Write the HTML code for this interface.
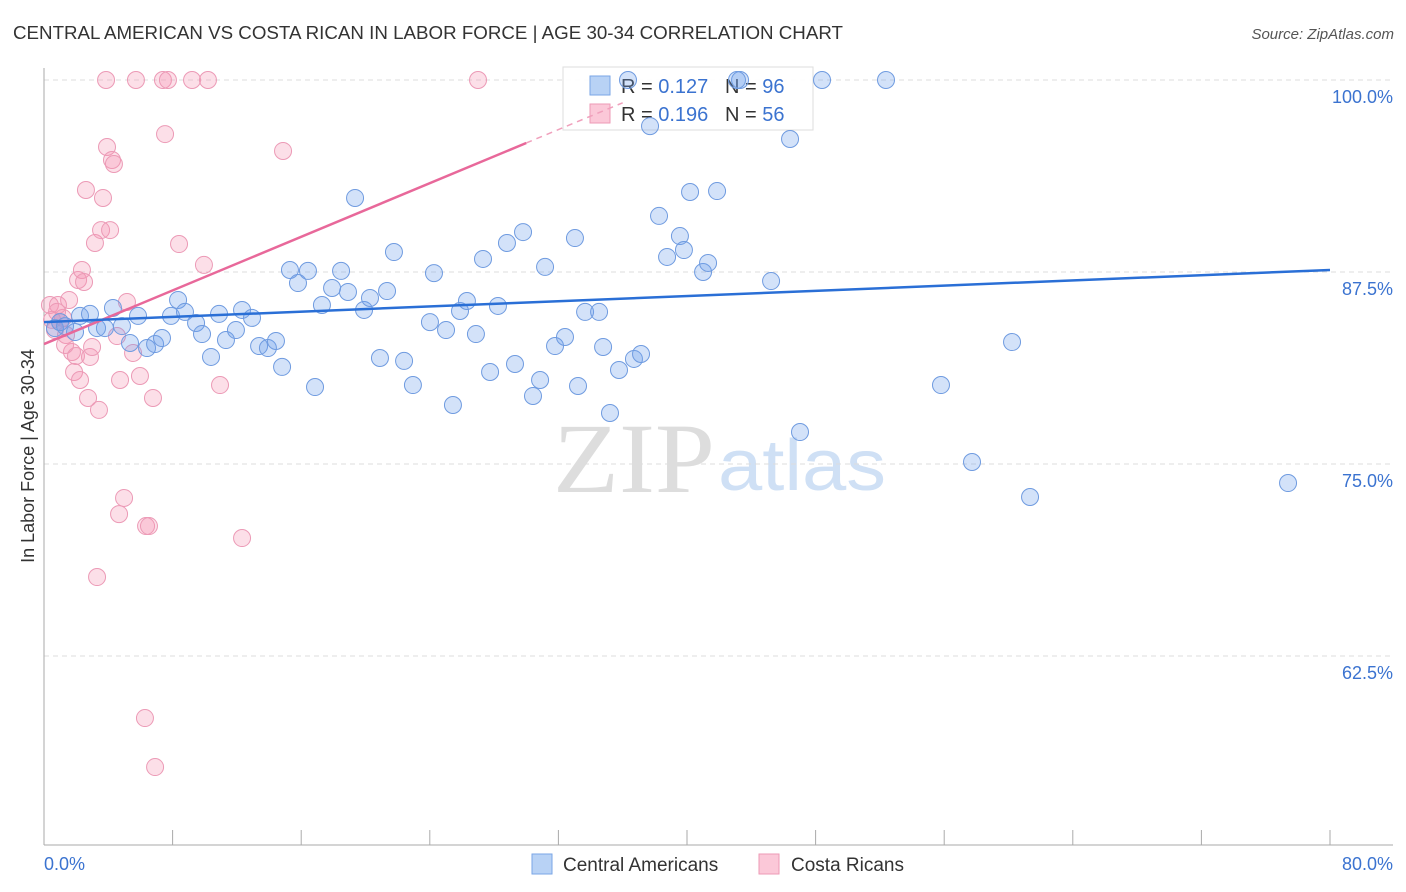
<!DOCTYPE html>
<html><head><meta charset="utf-8"><style>
body{margin:0;background:#fff;font-family:"Liberation Sans",sans-serif;}
svg{display:block}
</style></head><body>
<svg id="chart" width="1406" height="892">
<text x="13" y="39" font-size="18" fill="#333" textLength="830" lengthAdjust="spacingAndGlyphs">CENTRAL AMERICAN VS COSTA RICAN IN LABOR FORCE | AGE 30-34 CORRELATION CHART</text>
<text x="1394" y="39" font-size="15" fill="#555" font-style="italic" text-anchor="end">Source: ZipAtlas.com</text>
<text transform="translate(34,456) rotate(-90)" font-size="18" fill="#333" text-anchor="middle">In Labor Force | Age 30-34</text>
<text x="553" y="492" font-size="100" fill="#ddd" font-family="Liberation Serif,serif" textLength="162" lengthAdjust="spacingAndGlyphs">ZIP</text>
<text x="718" y="490" font-size="72" fill="#cfe0f5" textLength="168" lengthAdjust="spacingAndGlyphs">atlas</text>
<g id="grid"></g>
<g>
<rect x="563" y="67" width="250" height="63" fill="#fff" fill-opacity="0.9" stroke="#ddd"/>
<rect x="590" y="76" width="20" height="19" fill="#b8d2f5" stroke="#7aa6e6"/>
<rect x="590" y="104" width="20" height="19" fill="#fbc8d8" stroke="#ee9ab6"/>
<text x="621" y="93" font-size="20" fill="#333">R = <tspan fill="#3b73d0">0.127</tspan>&#160;&#160;&#160;N = <tspan fill="#3b73d0">96</tspan></text>
<text x="621" y="121" font-size="20" fill="#333">R = <tspan fill="#3b73d0">0.196</tspan>&#160;&#160;&#160;N = <tspan fill="#3b73d0">56</tspan></text>
</g>
<g id="marks"></g>
<g>
<rect x="532" y="854" width="20" height="20" fill="#b8d2f5" stroke="#7aa6e6"/>
<text x="563" y="871" font-size="19" fill="#333">Central Americans</text>
<rect x="759" y="854" width="20" height="20" fill="#fbc8d8" stroke="#ee9ab6"/>
<text x="791" y="871" font-size="19" fill="#333">Costa Ricans</text>
</g>
</svg>
<script>
const yTicks=[100,87.5,75,62.5];
const yTickLabels=["100.0%","87.5%","75.0%","62.5%"];
const xTickLabels=["0.0%","80.0%"];
const blueX=[0.68,1.0,1.31,1.93,2.24,2.86,3.30,3.79,4.29,4.85,5.35,5.85,6.41,6.91,7.34,7.90,8.34,8.77,9.46,9.83,10.39,10.89,11.32,11.94,12.32,12.94,13.38,13.93,14.43,14.81,15.30,15.80,16.42,16.86,17.29,17.92,18.48,18.91,19.35,19.91,20.28,20.90,21.34,21.77,22.40,22.95,24.01,24.26,25.01,25.44,25.88,26.31,26.87,27.31,27.75,28.24,28.80,29.30,29.80,30.42,30.86,31.17,31.79,32.41,33.03,33.22,33.66,34.53,34.78,35.21,35.77,36.33,36.70,37.14,37.70,38.26,38.76,39.56,39.81,40.19,41.00,41.31,41.87,43.30,43.11,45.23,46.41,47.03,48.40,52.38,55.80,57.73,60.22,61.34,77.39];
const blueY=[83.85,84.24,83.98,83.59,84.64,84.77,83.85,83.85,85.16,83.98,82.88,84.64,82.55,82.81,83.20,84.64,85.68,84.90,84.18,83.46,81.97,84.77,83.07,83.72,85.03,84.51,82.68,82.55,83.01,81.32,87.63,86.78,87.57,80.01,85.35,86.46,87.57,86.20,92.32,85.03,85.81,81.90,86.26,88.80,81.71,80.14,84.24,87.43,83.72,78.84,84.96,85.61,83.46,88.35,80.99,85.29,89.39,81.51,90.10,79.43,80.47,87.83,82.68,83.27,89.71,80.08,84.90,84.90,82.62,78.32,81.12,100,81.84,82.16,97.0,91.15,88.48,89.84,88.93,92.71,87.50,88.09,92.77,100,100,86.91,96.16,77.08,100,100,80.14,75.13,82.94,72.85,73.76];
const pinkX=[0.37,0.50,0.68,0.87,1.0,1.18,1.37,1.56,1.74,1.87,1.99,2.12,2.24,2.36,2.49,2.61,2.74,3.17,3.30,3.42,3.55,3.67,3.86,3.92,4.11,4.23,4.35,4.54,4.67,4.73,4.98,5.16,5.54,5.72,5.97,6.28,6.35,6.53,6.78,6.91,7.40,7.53,7.71,8.40,9.21,9.95,10.20,10.95,12.32,14.87,27.0,2.86,2.99,1.31,0.81];
const pinkY=[85.35,84.38,83.72,85.35,84.24,84.51,83.40,85.68,82.29,80.99,82.03,86.98,80.47,87.63,86.85,92.84,79.30,89.39,67.64,78.52,90.23,92.32,100,95.64,90.23,94.79,94.53,83.33,71.74,80.47,72.79,85.55,82.23,100,80.73,58.46,70.96,70.96,79.30,55.27,100,96.48,100,89.32,100,87.96,100,80.14,70.18,95.38,100,81.97,82.62,82.75,84.90];
const blueTrend=[84.24,87.63];
const pinkTrend=[82.81,95.9];
const X0=44,X1=1330,Y100=80,PX_PER=192/12.5;
const sx=v=>X0+v/80*(X1-X0);
const sy=v=>Y100+(100-v)*PX_PER;
const NS="http://www.w3.org/2000/svg";
const grid=document.getElementById('grid'),marks=document.getElementById('marks');
function mk(tag,attrs,parent){const e=document.createElementNS(NS,tag);for(const k in attrs)e.setAttribute(k,attrs[k]);parent.appendChild(e);return e;}
yTicks.forEach((t,i)=>{
 const l=mk('line',{x1:44,x2:1393,y1:sy(t),y2:sy(t),stroke:'#ddd','stroke-dasharray':'5,4'},grid);
 
 
 const tx=mk('text',{x:1393,y:sy(t)+23,'font-size':18,fill:'#3b73d0','text-anchor':'end'},grid);
 tx.textContent=yTickLabels[i];
 
 
});
const ax=mk('line',{x1:44,x2:44,y1:68,y2:845,stroke:'#aaa'},grid);


const bx=mk('line',{x1:44,x2:1393,y1:845,y2:845,stroke:'#aaa'},grid);


for(let i=0;i<=10;i++){const v=i*8;const t=mk('line',{x1:sx(v),x2:sx(v),y1:830,y2:845,stroke:'#aaa'},grid);
 
 }
[[0,'start',44],[80,'end',1393]].forEach((d,i)=>{const t=mk('text',{x:d[2],y:870,'font-size':18,fill:'#3b73d0','text-anchor':d[1]},grid);t.textContent=xTickLabels[i];
 
 });
pinkX.forEach((x,i)=>{const c=mk('circle',{cx:sx(x),cy:sy(pinkY[i]),r:8.5,fill:'rgba(245,150,180,0.3)',stroke:'#ec9ab6','stroke-width':1},marks);
 
 });
blueX.forEach((x,i)=>{const c=mk('circle',{cx:sx(x),cy:sy(blueY[i]),r:8.5,fill:'rgba(110,160,235,0.3)',stroke:'#6f9be0','stroke-width':1},marks);
 
 });
const pt=v=>pinkTrend[0]+(pinkTrend[1]-pinkTrend[0])*v/30;
const pl=mk('line',{x1:sx(0),y1:sy(pt(0)),x2:sx(30),y2:sy(pt(30)),stroke:'#e8689a','stroke-width':2.5},marks);


const pd=mk('line',{x1:sx(30),y1:sy(pt(30)),x2:sx(36),y2:sy(pt(36)),stroke:'#f0a0bc','stroke-width':1.5,'stroke-dasharray':'6,5'},marks);


const bl=mk('line',{x1:sx(0),y1:sy(blueTrend[0]),x2:sx(80),y2:sy(blueTrend[1]),stroke:'#2a6fd6','stroke-width':2.5},marks);


</script>
</body></html>
